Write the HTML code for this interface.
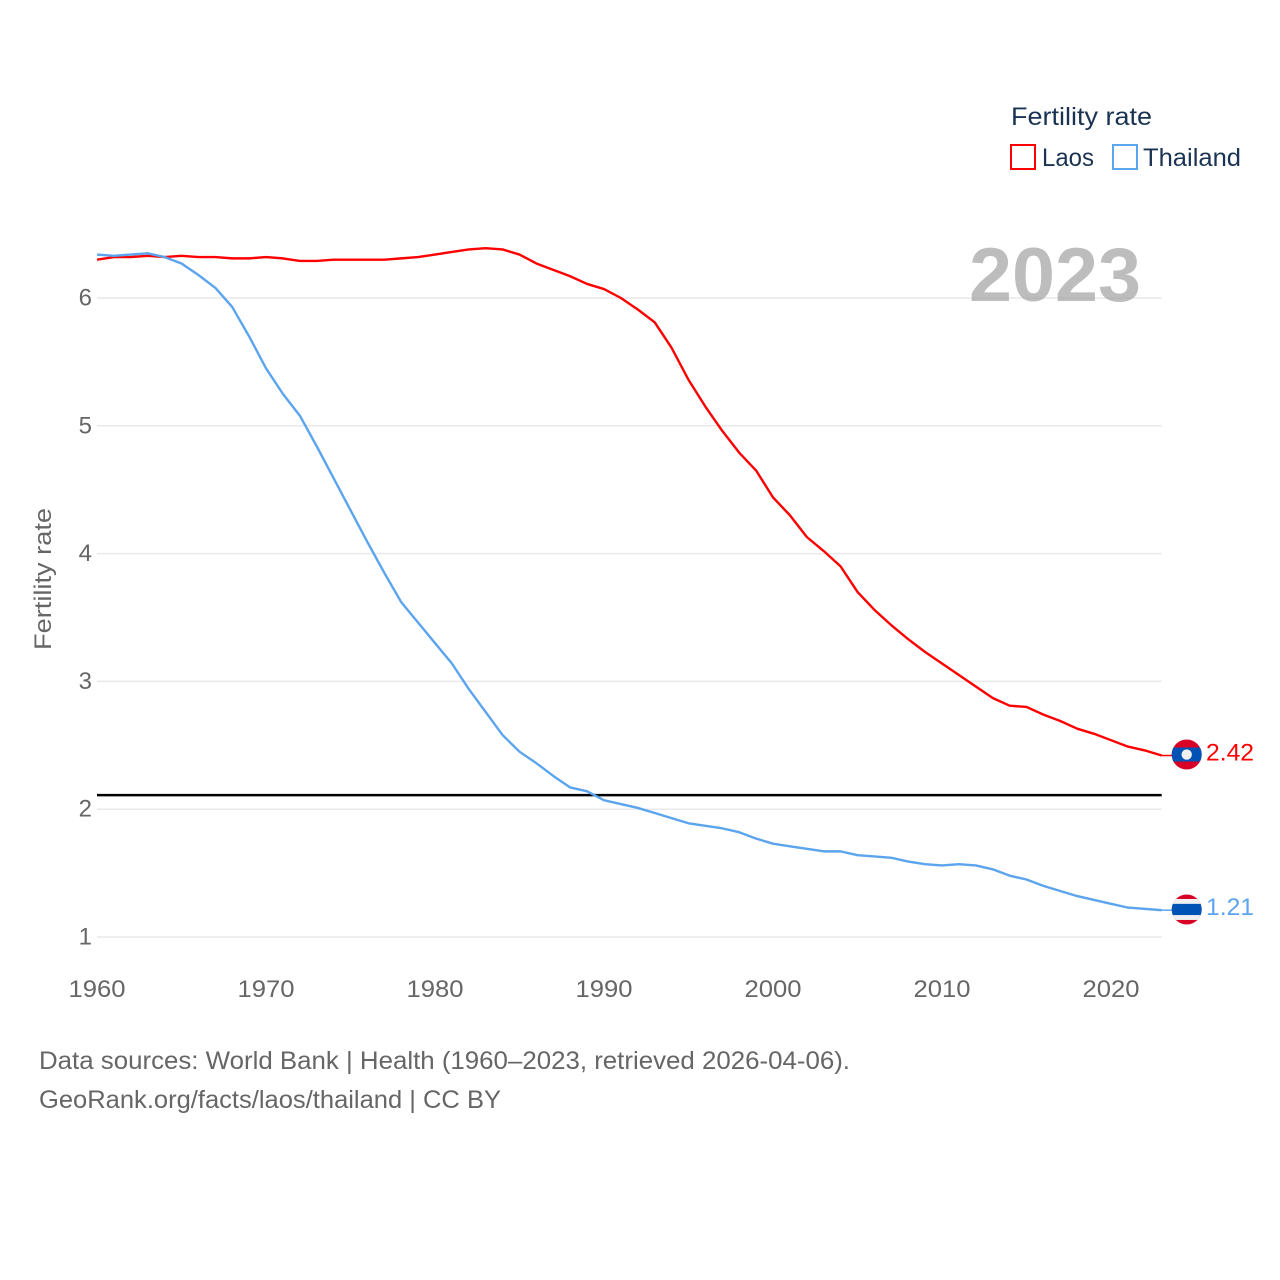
<!DOCTYPE html>
<html lang="en">
<head>
<meta charset="utf-8">
<title>Fertility rate: Laos and Thailand</title>
<style>
html,body{margin:0;padding:0;background:#fff;}
svg{display:block;}
text{font-family:"Liberation Sans",sans-serif;}
</style>
</head>
<body>
<svg id="chart" xmlns="http://www.w3.org/2000/svg" width="1280" height="1280" viewBox="0 0 1280 1280">
  <defs>
    <clipPath id="flag-clip"><circle cx="0" cy="0" r="15"/></clipPath>
  </defs>
  <rect x="0" y="0" width="1280" height="1280" fill="#fff"/>
  <g id="grid"></g>
  <text x="969" y="301" font-size="76" font-weight="700" fill="#a3a3a3" fill-opacity="0.72" textLength="172" lengthAdjust="spacingAndGlyphs">2023</text>
  <g id="yticks"></g>
  <g id="xticks"></g>
  <g id="series"></g>
  <g id="ends"></g>
  <text transform="translate(51,650) rotate(-90)" font-size="24" fill="#666" textLength="142" lengthAdjust="spacingAndGlyphs">Fertility rate</text>

  <g>
    <text x="1011" y="125" font-size="25" fill="#1a3352" textLength="141" lengthAdjust="spacingAndGlyphs">Fertility rate</text>
    <g>
      <rect x="1011" y="145" width="24" height="24" fill="#fff" stroke="#ff0000" stroke-width="2"/>
      <text x="1042" y="166" font-size="25" fill="#1a3352" textLength="52" lengthAdjust="spacingAndGlyphs">Laos</text>
    </g>
    <g>
      <rect x="1113" y="145" width="24" height="24" fill="#fff" stroke="#5ba4ee" stroke-width="2"/>
      <text x="1143" y="166" font-size="25" fill="#1a3352" textLength="98" lengthAdjust="spacingAndGlyphs">Thailand</text>
    </g>
  </g>

  <text x="39" y="1069" font-size="25" fill="#666" textLength="811" lengthAdjust="spacingAndGlyphs">Data sources: World Bank | Health (1960–2023, retrieved 2026-04-06).</text>
  <text x="39" y="1108" font-size="25" fill="#666" textLength="462" lengthAdjust="spacingAndGlyphs">GeoRank.org/facts/laos/thailand | CC BY</text>
</svg>

<script>
const years = [1960,1961,1962,1963,1964,1965,1966,1967,1968,1969,1970,1971,1972,1973,1974,1975,1976,1977,1978,1979,1980,1981,1982,1983,1984,1985,1986,1987,1988,1989,1990,1991,1992,1993,1994,1995,1996,1997,1998,1999,2000,2001,2002,2003,2004,2005,2006,2007,2008,2009,2010,2011,2012,2013,2014,2015,2016,2017,2018,2019,2020,2021,2022,2023];
const laos = [6.30,6.32,6.32,6.33,6.32,6.33,6.32,6.32,6.31,6.31,6.32,6.31,6.29,6.29,6.30,6.30,6.30,6.30,6.31,6.32,6.34,6.36,6.38,6.39,6.38,6.34,6.27,6.22,6.17,6.11,6.07,6.00,5.91,5.81,5.61,5.36,5.15,4.96,4.79,4.65,4.44,4.30,4.13,4.02,3.90,3.70,3.56,3.44,3.33,3.23,3.14,3.05,2.96,2.87,2.81,2.80,2.74,2.69,2.63,2.59,2.54,2.49,2.46,2.42];
const thailand = [6.34,6.33,6.34,6.35,6.32,6.27,6.18,6.08,5.93,5.70,5.45,5.25,5.08,4.84,4.59,4.34,4.09,3.85,3.62,3.46,3.30,3.14,2.94,2.76,2.58,2.45,2.36,2.26,2.17,2.14,2.07,2.04,2.01,1.97,1.93,1.89,1.87,1.85,1.82,1.77,1.73,1.71,1.69,1.67,1.67,1.64,1.63,1.62,1.59,1.57,1.56,1.57,1.56,1.53,1.48,1.45,1.40,1.36,1.32,1.29,1.26,1.23,1.22,1.21];
const referenceValue = [2.11];
const yTickValues = [1,2,3,4,5,6];
const xTickValues = [1960,1970,1980,1990,2000,2010,2020];

const NS = 'http://www.w3.org/2000/svg';
const plot = {left:97, right:1161.7, bottom:937, top:298};
const xScale = function(year){
  return plot.left + (year - 1960) * (plot.right - plot.left) / 63;
};
const yScale = function(value){
  return plot.bottom - (value - 1) * (plot.bottom - plot.top) / 5;
};
function make(tag, attrs, parent){
  const el = document.createElementNS(NS, tag);
  Object.keys(attrs).forEach(function(k){ el.setAttribute(k, attrs[k]); });
  parent.appendChild(el);
  return el;
}

const grid = document.getElementById('grid');
const yticks = document.getElementById('yticks');
const xticks = document.getElementById('xticks');
const seriesGroup = document.getElementById('series');
const ends = document.getElementById('ends');

yTickValues.forEach(function(v){
  const line = make('line', {x1:plot.left, x2:plot.right, y1:yScale(v), y2:yScale(v), stroke:'#e9e9e9', 'stroke-width':1.5}, grid);
  
  
  const label = make('text', {x:92, y:yScale(v) + 7.5, 'font-size':24, fill:'#666', 'text-anchor':'end'}, yticks);
  
  
  label.textContent = String(v);
});

xTickValues.forEach(function(y){
  const label = make('text', {x:xScale(y), y:997, 'font-size':24, fill:'#666', 'text-anchor':'middle', textLength:57, lengthAdjust:'spacingAndGlyphs'}, xticks);
  
  
  label.textContent = String(y);
});

const refLine = make('line', {x1:plot.left, x2:plot.right, y1:yScale(referenceValue[0]), y2:yScale(referenceValue[0]), stroke:'#000', 'stroke-width':2.5}, seriesGroup);



function linePoints(values){
  return values.map(function(v, i){
    return xScale(years[i]).toFixed(2) + ',' + yScale(v).toFixed(2);
  }).join(' ');
}

const laosLine = make('polyline', {points:linePoints(laos), fill:'none', stroke:'#ff0000', 'stroke-width':2.4, 'stroke-linejoin':'round'}, seriesGroup);



const thailandLine = make('polyline', {points:linePoints(thailand), fill:'none', stroke:'#5ba4ee', 'stroke-width':2.4, 'stroke-linejoin':'round'}, seriesGroup);



/* Laos end marker */
const laosEndY = yScale(laos[laos.length - 1]);
const laosStub = make('line', {x1:plot.right, x2:1172, y1:laosEndY, y2:laosEndY, stroke:'#ff0000', 'stroke-width':1.5}, ends);


const laosFlag = make('g', {transform:'translate(1186.7,' + (laosEndY - 1) + ')', 'clip-path':'url(#flag-clip)'}, ends);


make('rect', {x:-16, y:-16, width:32, height:32, fill:'#d80027'}, laosFlag);
make('rect', {x:-16, y:-7, width:32, height:14, fill:'#0052b4'}, laosFlag);
make('circle', {cx:0, cy:0, r:5.2, fill:'#f0f0f0'}, laosFlag);
const laosValue = make('text', {x:1206, y:laosEndY + 5, 'font-size':24, fill:'#ff0000', textLength:48, lengthAdjust:'spacingAndGlyphs'}, ends);


laosValue.textContent = laos[laos.length - 1].toFixed(2);

/* Thailand end marker */
const thaiEndY = yScale(thailand[thailand.length - 1]);
const thaiStub = make('line', {x1:plot.right, x2:1172, y1:thaiEndY, y2:thaiEndY, stroke:'#5ba4ee', 'stroke-width':1.5}, ends);


const thaiFlag = make('g', {transform:'translate(1186.7,' + (thaiEndY - 0.7) + ')', 'clip-path':'url(#flag-clip)'}, ends);


make('rect', {x:-16, y:-16, width:32, height:32, fill:'#d80027'}, thaiFlag);
make('rect', {x:-16, y:-10.5, width:32, height:21, fill:'#f0f0f0'}, thaiFlag);
make('rect', {x:-16, y:-5.6, width:32, height:11.2, fill:'#0052b4'}, thaiFlag);
const thaiValue = make('text', {x:1206, y:thaiEndY + 5, 'font-size':24, fill:'#5ba4ee', textLength:48, lengthAdjust:'spacingAndGlyphs'}, ends);


thaiValue.textContent = thailand[thailand.length - 1].toFixed(2);
</script>
</body>
</html>
